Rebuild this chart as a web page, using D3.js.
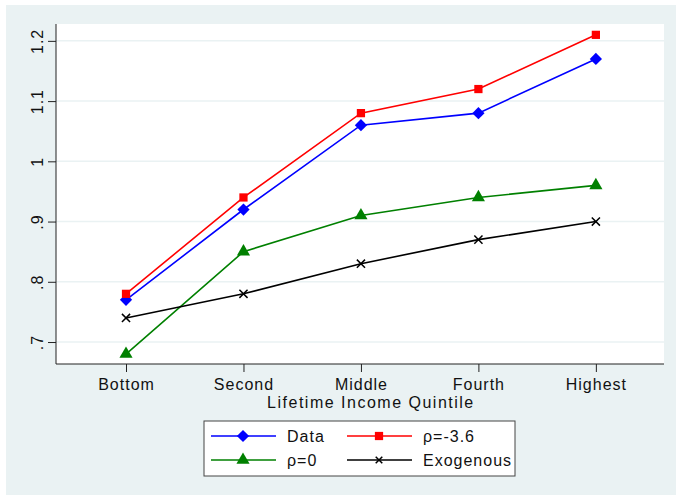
<!DOCTYPE html>
<html>
<head>
<meta charset="utf-8">
<script src="https://cdn.jsdelivr.net/npm/d3@7"></script>
<style>
  body { margin: 0; background: #fff; }
  text { font-family: "Liberation Sans", Arial, sans-serif; letter-spacing: 1px; }
</style>
</head>
<body>
<div id="chart"></div>
<script>
// quintiles and series
const quintiles = ["Bottom", "Second", "Middle", "Fourth", "Highest"]
const dataVals = [0.77, 0.92, 1.06, 1.08, 1.17]
const rhoNeg = [0.78, 0.94, 1.08, 1.12, 1.21]
const rhoZero = [0.68, 0.85, 0.91, 0.94, 0.96]
const exogenous = [0.74, 0.78, 0.83, 0.87, 0.90]
const yTicks = [0.7, 0.8, 0.9, 1.0, 1.1, 1.2]
const yTickLabels = [".7", ".8", ".9", "1", "1.1", "1.2"]

// square turned 45 degrees (stata style diamond)
const symbolRhomb = {
  draw(context, size) {
    const r = Math.sqrt(size) / Math.SQRT2
    context.moveTo(0, -r)
    context.lineTo(r, 0)
    context.lineTo(0, r)
    context.lineTo(-r, 0)
    context.closePath()
  }
}

const series = [
  { name: "Data", values: dataVals, color: "#0000ff", symbol: symbolRhomb, size: 75 },
  { name: "ρ=-3.6", values: rhoNeg, color: "#ff0000", symbol: d3.symbolSquare, size: 68 },
  { name: "ρ=0", values: rhoZero, color: "#008000", symbol: d3.symbolTriangle, size: 75 },
  { name: "Exogenous", values: exogenous, color: "#000000", symbol: d3.symbolX, size: 45 }
]

const W = 676, H = 495
const MARGIN = { LEFT: 56, RIGHT: 12, TOP: 24, BOTTOM: 131 }
const WIDTH = W - MARGIN.LEFT - MARGIN.RIGHT
const HEIGHT = H - MARGIN.TOP - MARGIN.BOTTOM

const svg = d3.select("#chart").append("svg")
  .attr("width", W)
  .attr("height", H)

// outer grey panel
svg.append("rect")
  .attr("x", 6).attr("y", 5)
  .attr("width", W - 6).attr("height", H - 5)
  .attr("fill", "#eaf2f3")

const g = svg.append("g")
  .attr("transform", `translate(${MARGIN.LEFT}, ${MARGIN.TOP})`)

g.append("rect")
  .attr("width", WIDTH).attr("height", HEIGHT)
  .attr("fill", "#fff")

const x = d3.scaleLinear().domain([0.404, 5.58]).range([0, WIDTH])
const y = d3.scaleLinear().domain([0.6635, 1.228]).range([HEIGHT, 0])

// gridlines
g.selectAll(".grid").data(yTicks).enter().append("line")
  .attr("class", "grid")
  .attr("x1", 0).attr("x2", WIDTH)
  .attr("y1", d => y(d)).attr("y2", d => y(d))
  .attr("stroke", "#eaf2f3")
  .attr("stroke-width", 1.5)

// y axis
const yAxisCall = d3.axisLeft(y)
  .tickValues(yTicks)
  .tickSize(8)
  .tickFormat((d, i) => yTickLabels[i])
const yAxis = g.append("g").attr("class", "y axis").call(yAxisCall)
yAxis.select(".domain").attr("d", `M0,0V${HEIGHT}`).attr("stroke", "#222")
yAxis.selectAll(".tick line").attr("stroke", "#222")
yAxis.selectAll(".tick text")
  .attr("x", null).attr("dy", null)
  .attr("transform", "translate(-13,0) rotate(-90)")
  .attr("text-anchor", "middle")
  .attr("font-size", "16px")
  .attr("fill", "#111")

// x axis
const xAxisCall = d3.axisBottom(x)
  .tickValues([1, 2, 3, 4, 5])
  .tickSize(8)
  .tickPadding(7)
  .tickFormat(d => quintiles[d - 1])
const xAxis = g.append("g")
  .attr("class", "x axis")
  .attr("transform", `translate(0, ${HEIGHT})`)
  .call(xAxisCall)
xAxis.select(".domain").attr("d", `M0,0H${WIDTH}`).attr("stroke", "#222")
xAxis.selectAll(".tick line").attr("stroke", "#222")
xAxis.selectAll(".tick text")
  .attr("font-size", "16px")
  .attr("fill", "#111")

g.append("text")
  .attr("x", x(3) + 10).attr("y", HEIGHT + 44)
  .attr("text-anchor", "middle")
  .attr("font-size", "16px")
  .style("letter-spacing", "1.5px")
  .attr("fill", "#111")
  .text("Lifetime Income Quintile")

// lines and markers
const line = d3.line()
  .x((d, i) => x(i + 1))
  .y(d => y(d))

series.forEach(s => {
  g.append("path")
    .attr("d", line(s.values))
    .attr("fill", "none")
    .attr("stroke", s.color)
    .attr("stroke-width", 1.6)

  g.selectAll(null).data(s.values).enter().append("path")
    .attr("d", d3.symbol().type(s.symbol).size(s.size))
    .attr("transform", (d, i) => `translate(${x(i + 1)}, ${y(d)})`)
    .attr("fill", s.color)
    .attr("stroke", s.symbol === d3.symbolX ? s.color : "none")
    .attr("stroke-width", 1.5)
})

// legend
const legend = svg.append("g").attr("transform", "translate(204, 421)")
legend.append("rect")
  .attr("width", 311).attr("height", 55)
  .attr("fill", "#fff")
  .attr("stroke", "#444")
  .attr("stroke-width", 1)

series.forEach((s, i) => {
  const col = i % 2, row = Math.floor(i / 2)
  const lx = 7 + col * 136, ly = 15 + row * 24
  const item = legend.append("g").attr("transform", `translate(${lx}, ${ly})`)
  item.append("line")
    .attr("x1", 0).attr("x2", 65)
    .attr("stroke", s.color)
    .attr("stroke-width", 1.6)
  item.append("path")
    .attr("d", d3.symbol().type(s.symbol).size(s.symbol === d3.symbolX ? 30 : s.size))
    .attr("transform", "translate(32, 0)")
    .attr("fill", s.color)
    .attr("stroke", s.symbol === d3.symbolX ? s.color : "none")
    .attr("stroke-width", 1.5)
  item.append("text")
    .attr("x", 76).attr("y", 6)
    .attr("font-size", "16px")
    .attr("fill", "#111")
    .text(s.name)
})
</script>
</body>
</html>
